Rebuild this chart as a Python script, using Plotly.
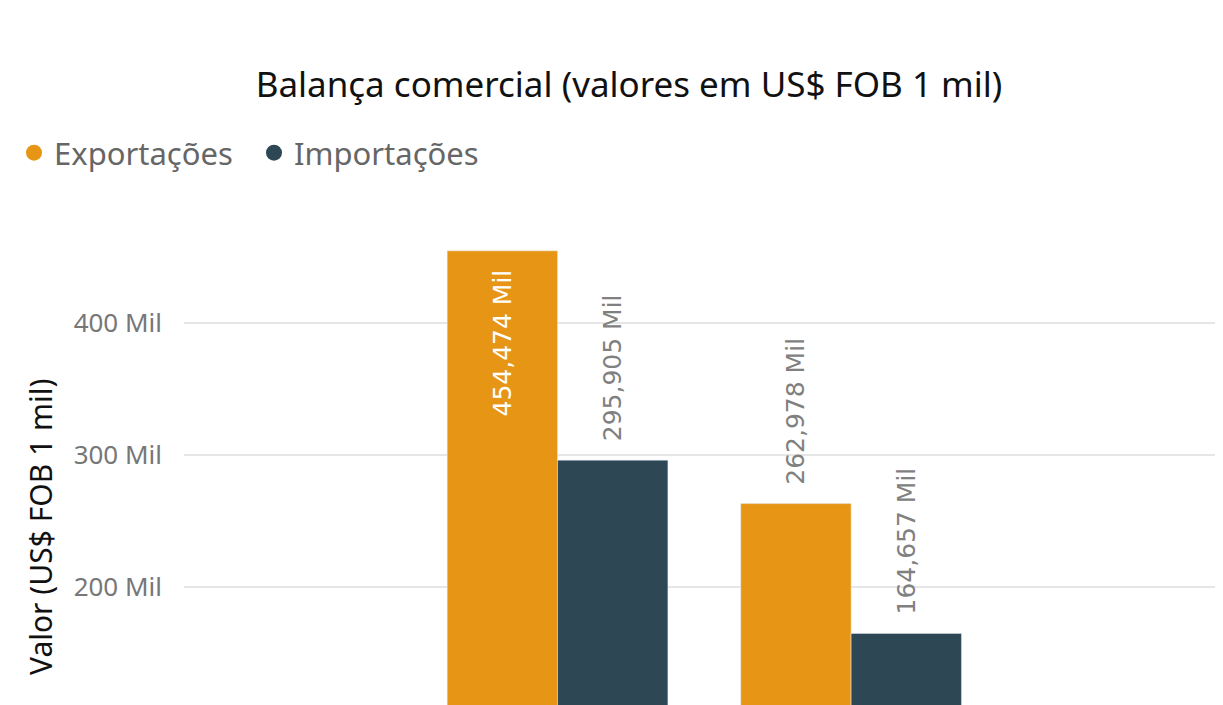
import plotly.graph_objects as go

categories = ["2022", "2023"]
exportacoes = [454474, 262978]
importacoes = [295905, 164657]
tick_vals = [200000, 300000, 400000]
tick_text = ["200 Mil", "300 Mil", "400 Mil"]

ORANGE = "#E69614"
DARK = "#2E4755"
OFF = 8  # page body margin
W, H = 1223 - OFF, 705 - OFF
L = 184 - OFF
T = 200 - OFF
PW, PH = W - L, H - T

NB = "\u00a0"
LBL = "%{y:,.0f} Mil"
IN_TPL = LBL + NB * 2          # padding from bar top (inside)
OUT_TPL = NB * 2 + LBL         # gap above bar (outside)
LBL_FONT = "DejaVu Sans"
LBL_SIZE = 25

fig = go.Figure()
fig.add_trace(go.Bar(
    x=categories, y=exportacoes, name="Exportações", marker_color=ORANGE,
    showlegend=False, texttemplate=[IN_TPL, OUT_TPL], textangle=-90,
    textposition=["inside", "outside"], insidetextanchor="end",
    constraintext="none",
    insidetextfont=dict(color="white", size=LBL_SIZE, family=LBL_FONT),
    outsidetextfont=dict(color="#808080", size=LBL_SIZE, family=LBL_FONT),
    cliponaxis=False,
))
fig.add_trace(go.Bar(
    x=categories, y=importacoes, name="Importações", marker_color=DARK,
    showlegend=False, texttemplate=OUT_TPL, textangle=-90,
    textposition="outside", constraintext="none",
    outsidetextfont=dict(color="#808080", size=LBL_SIZE, family=LBL_FONT),
    cliponaxis=False,
))
# legend entries with round markers
for name, col in [("Exportações", ORANGE), ("Importações", DARK)]:
    fig.add_trace(go.Scatter(x=[None], y=[None], mode="markers", name=name,
                             marker=dict(symbol="circle", size=20, color=col)))

fig.update_layout(
    width=W, height=H,
    margin=dict(l=L, r=0, t=T, b=0, pad=0),
    paper_bgcolor="white", plot_bgcolor="white",
    barmode="group", bargap=0.248, bargroupgap=0,
    font=dict(family="Noto Sans", color="#666666"),
    title=dict(text="Balança comercial (valores em US$ FOB 1 mil)",
               x=(629 - OFF) / W, xanchor="center", y=1 - (85 - OFF) / H,
               yanchor="middle", xref="container", yref="container",
               font=dict(size=35, color="#111111", family="Noto Sans")),
    legend=dict(orientation="h", x=(6 - L) / PW, xanchor="left",
                y=1 + (T - (153 - OFF)) / PH, yanchor="middle",
                font=dict(size=31, color="#666666", family="Noto Sans"),
                itemsizing="trace", itemwidth=30, tracegroupgap=0,
                entrywidth=195, bgcolor="rgba(0,0,0,0)"),
    xaxis=dict(range=[-1.2726, 2.267], showticklabels=False, showgrid=False,
               zeroline=False, showline=False, ticks=""),
    yaxis=dict(range=[110400, 492976], tickvals=tick_vals, ticktext=tick_text,
               showgrid=True, gridcolor="#E6E6E6", gridwidth=2, zeroline=False,
               showline=False, ticks="", ticklabelstandoff=21,
               tickfont=dict(size=26, color="#777777", family="Noto Sans")),
    annotations=[dict(text="Valor (US$ FOB 1 mil)", textangle=-90,
                      xref="paper", yref="paper",
                      x=(40 - 184) / PW, y=(705 - 527) / PH,
                      xanchor="center", yanchor="middle", showarrow=False,
                      font=dict(size=30, color="#111111", family="Noto Sans"))],
)

fig.write_html("out.html")
